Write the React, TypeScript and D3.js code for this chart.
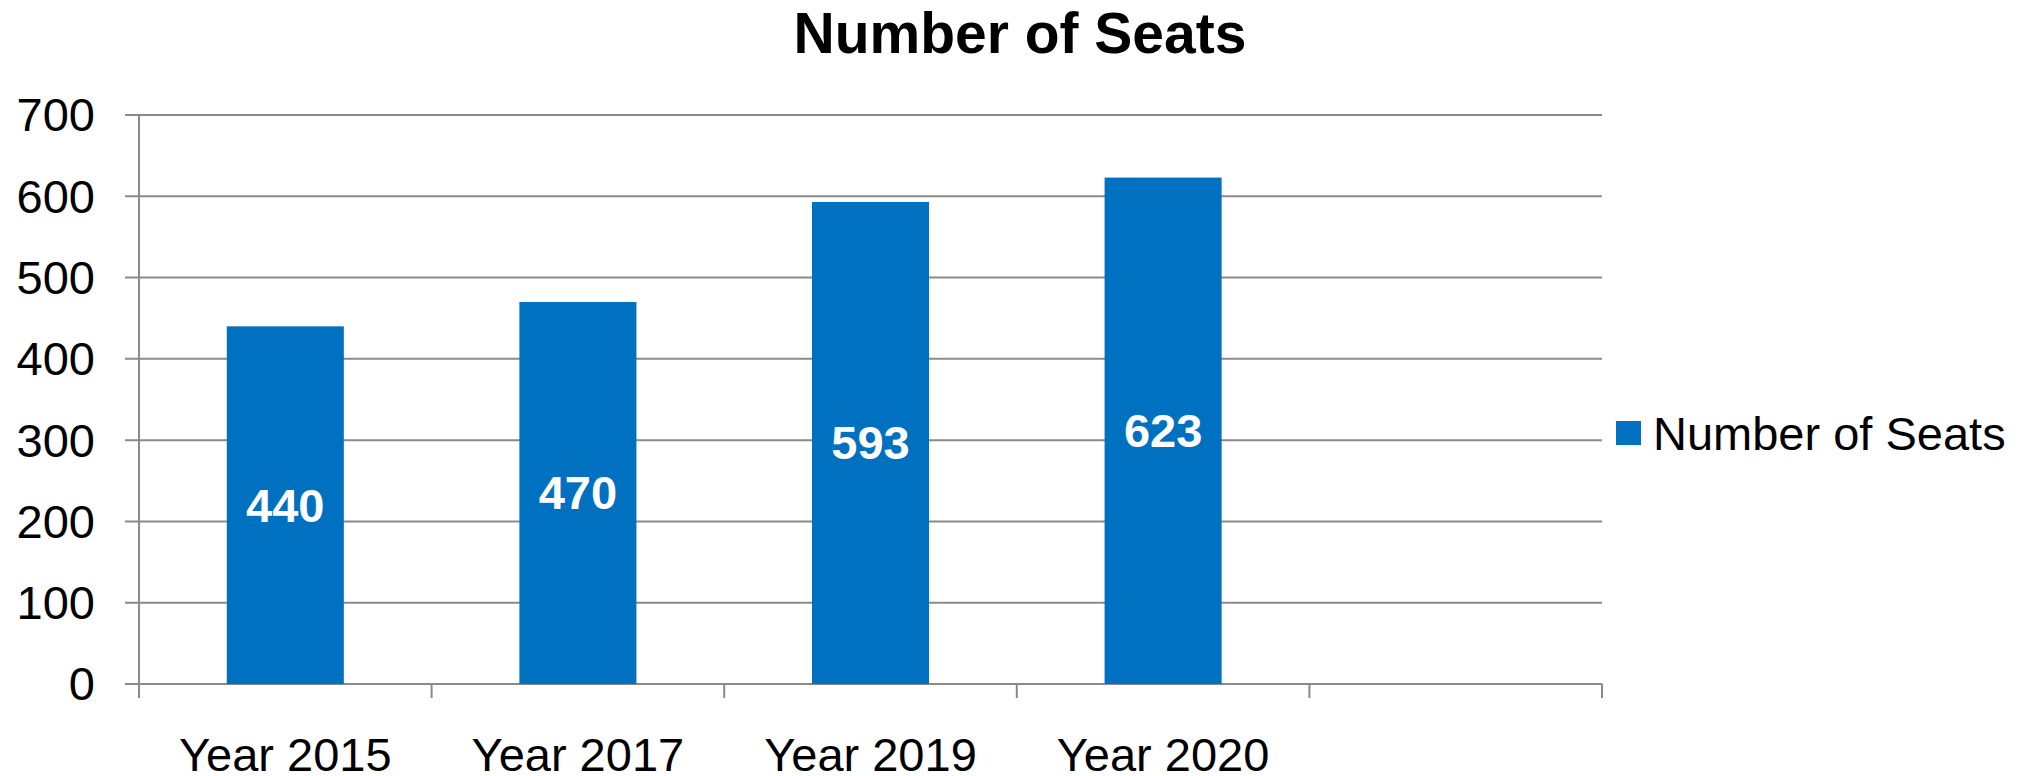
import React from "react";
import * as d3 from "d3";

const categories = ["Year 2015", "Year 2017", "Year 2019", "Year 2020", ""];
const seats = [440, 470, 593, 623];
const yTicks = [0, 100, 200, 300, 400, 500, 600, 700];
const seriesName = "Number of Seats";
const title = "Number of Seats";

const W = 2028;
const H = 776;
const FONT = "'Liberation Sans', Arial, sans-serif";

export default function App() {
  const left = 139;
  const right = 1602;
  const top = 115;
  const bottom = 684;

  const x = d3.scaleBand<string>().domain(categories.map((c, i) => String(i))).range([left, right]).padding(0);
  const y = d3.scaleLinear().domain([0, 700]).range([bottom, top]);
  const bw = x.bandwidth() * 0.4;
  const color = "#0070C0";
  const grid = "#8a8a8a";

  const boundaries = d3.range(categories.length + 1).map((k) => left + k * x.step());

  return (
    <svg width={W} height={H} style={{ position: "absolute", left: 0, top: 0, background: "#fff" }}>
      <text x={1020} y={53} textAnchor="middle" fontFamily={FONT} fontWeight="bold" fontSize={57} fill="#000">
        {title}
      </text>
      {yTicks.map((t) => (
        <g key={t}>
          <line x1={125} x2={right} y1={y(t)} y2={y(t)} stroke={grid} strokeWidth={2} />
          <text x={95} y={y(t)} dy="0.35em" textAnchor="end" fontFamily={FONT} fontSize={47} fill="#000">
            {t}
          </text>
        </g>
      ))}
      <line x1={left} x2={left} y1={top} y2={bottom + 14} stroke={grid} strokeWidth={2} />
      {boundaries.slice(1).map((bx, i) => (
        <line key={i} x1={bx} x2={bx} y1={bottom} y2={bottom + 14} stroke={grid} strokeWidth={2} />
      ))}
      {seats.map((v, i) => {
        const cx = (x(String(i)) as number) + x.bandwidth() / 2;
        return (
          <g key={i}>
            <rect x={cx - bw / 2} y={y(v)} width={bw} height={y(0) - y(v)} fill={color} />
            <text x={cx} y={(y(v) + y(0)) / 2} dy="0.35em" textAnchor="middle" fontFamily={FONT} fontWeight="bold" fontSize={47} fill="#fff">
              {v}
            </text>
          </g>
        );
      })}
      {categories.map((c, i) => (
        <text key={i} x={(x(String(i)) as number) + x.bandwidth() / 2} y={771} textAnchor="middle" fontFamily={FONT} fontSize={47} fill="#000">
          {c}
        </text>
      ))}
      <rect x={1616} y={421} width={25} height={24} fill={color} />
      <text x={1653} y={450} fontFamily={FONT} fontSize={47} fill="#000">
        {seriesName}
      </text>
    </svg>
  );
}
